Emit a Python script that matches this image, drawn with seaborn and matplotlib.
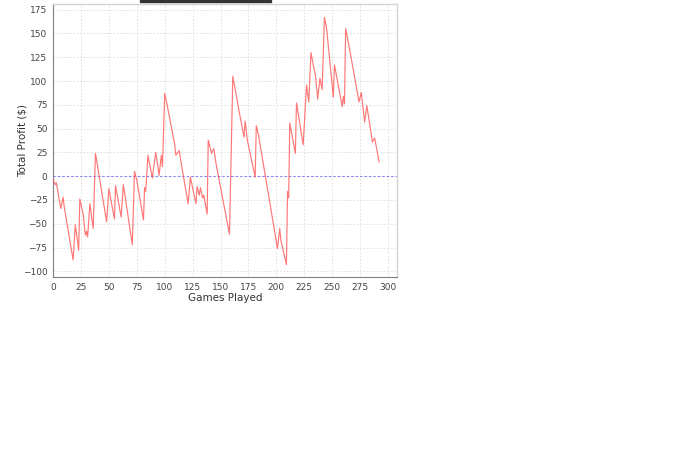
import matplotlib
matplotlib.use("Agg")
import matplotlib.pyplot as plt
import seaborn as sns
import pandas as pd
from matplotlib.patches import Rectangle

# cumulative profit, at the turning points
games = [0, 2, 3, 7, 9, 10, 18, 20, 23, 24, 27, 29, 30, 31, 33, 36, 38, 39,
         48, 50, 55, 56, 61, 63, 71, 73, 75, 81, 82, 83, 85, 89, 90, 92, 95,
         97, 98, 100, 102, 109, 110, 113, 115, 121, 123, 128, 129, 131, 132,
         134, 135, 138, 139, 142, 144, 146, 158, 161, 167, 171, 172, 174, 181,
         182, 184, 201, 203, 204, 209, 210, 211, 212, 217, 218, 224, 227, 229,
         231, 233, 235, 237, 239, 241, 243, 245, 251, 252, 259, 260, 261, 262,
         265, 274, 276, 279, 281, 286, 288, 292]
profit = [-3, -9, -7, -34, -22, -32, -88, -51, -78, -24, -40, -62, -58, -64,
          -29, -55, 24, 17, -48, -13, -45, -10, -43, -9, -72, 5, -4, -46, -12,
          -16, 22, -2, 8, 25, 1, 22, 10, 87, 76, 33, 22, 27, 12, -29, -1, -29,
          -11, -20, -12, -23, -20, -40, 38, 24, 29, 13, -61, 105, 66, 41, 58,
          38, -1, 53, 43, -76, -55, -67, -93, -16, -23, 56, 24, 77, 33, 96, 78,
          130, 117, 106, 81, 103, 91, 167, 155, 83, 117, 73, 84, 76, 155, 137,
          78, 88, 57, 74, 36, 40, 15]

x_ticks = list(range(0, 301, 25))
y_ticks = list(range(-100, 176, 25))

df = pd.DataFrame({"Games Played": games, "Total Profit ($)": profit})

sns.set_style("white")
plt.rcParams["font.family"] = ["DejaVu Sans"]

fig = plt.figure(figsize=(7, 4.59), dpi=100)
ax = fig.add_axes([53 / 700, 1 - 277 / 459, 344 / 700, 273 / 459])

ax.grid(True, color="#dcdcdc", linestyle=(0, (2, 2)), linewidth=0.6)
ax.axhline(0, color="#8080ff", linestyle=(0, (2, 2)), linewidth=0.8, zorder=2)
sns.lineplot(data=df, x="Games Played", y="Total Profit ($)", ax=ax,
             color="#ff5555", linewidth=0.85, alpha=0.8, zorder=3)

ax.set_xlim(0, 308)
ax.set_ylim(-106, 181)
ax.set_xticks(x_ticks)
ax.set_yticks(y_ticks)
ax.tick_params(axis="both", labelsize=6.5, colors="#444444", length=2,
               width=0.6, pad=2, direction="out")
ax.set_xlabel("Games Played", fontsize=7.5, color="#333333")
ax.set_ylabel("Total Profit ($)", fontsize=7.5, color="#333333")
ax.yaxis.set_label_coords(-0.075, 0.5)
ax.xaxis.set_label_coords(0.5, -0.057)

for side in ["left", "bottom"]:
    ax.spines[side].set_color("#808080")
    ax.spines[side].set_linewidth(0.8)
for side in ["top", "right"]:
    ax.spines[side].set_color("#d4d4d4")
    ax.spines[side].set_linewidth(1.0)

# dark bar cut off at the very top of the image
fig.add_artist(Rectangle((140 / 700, 1 - 1.6 / 459), 131 / 700, 1.6 / 459,
                         transform=fig.transFigure, color="#333333"))

fig.savefig("out.png", dpi=100)
